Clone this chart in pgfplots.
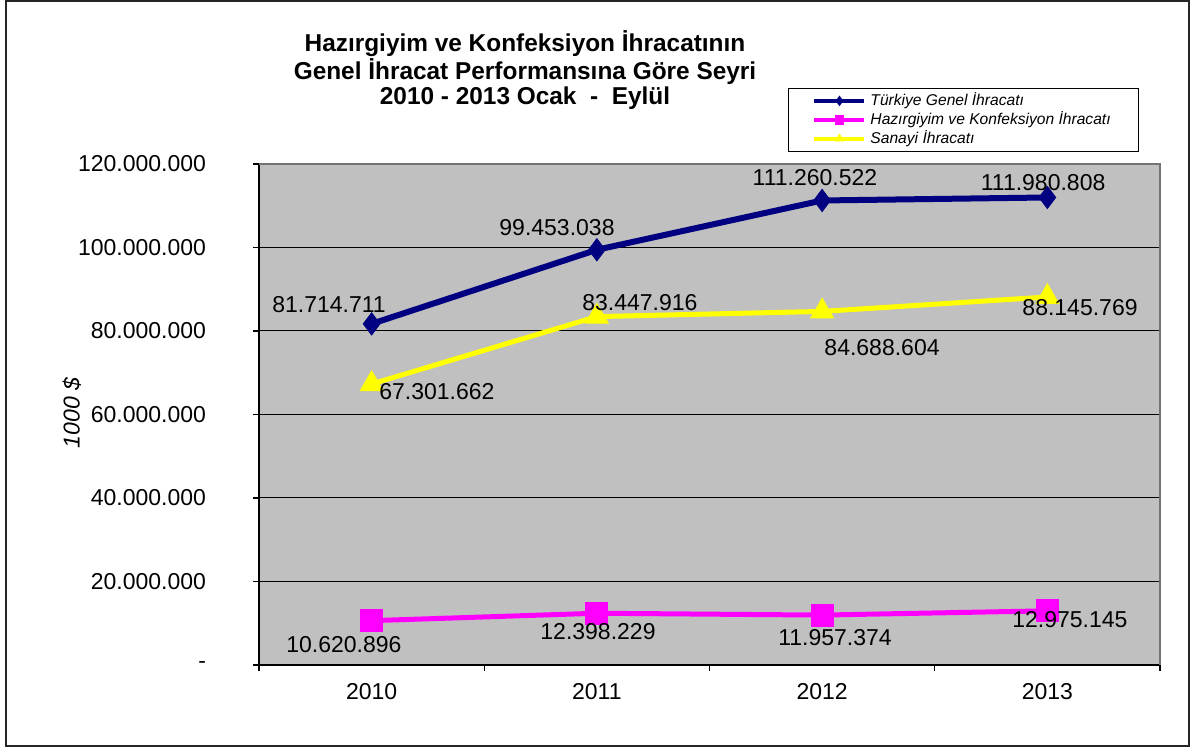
\documentclass[border=0pt]{standalone}
\usepackage{pgfplots}
\pgfplotsset{compat=1.18}
\usepackage{fontspec}
\setmainfont{Liberation Sans}
\definecolor{plotgray}{RGB}{192,192,192}
\definecolor{navyc}{RGB}{0,0,128}
\definecolor{magc}{RGB}{255,0,255}
\definecolor{yelc}{RGB}{255,255,0}
\begin{document}
\begin{tikzpicture}[x=1pt,y=1pt]
\draw[line width=1pt,black!85] (-126.5,-40.5) rectangle (465,332);
\begin{axis}[
  set layers,
  at={(0,0)}, anchor=south west,
  scale only axis, width=450.5pt, height=250.5pt,
  xmin=0, xmax=4, ymin=0, ymax=120000000,
  scaled y ticks=false,
  axis background/.style={fill=plotgray},
  axis x line*=bottom, axis y line*=left,
  axis line style={-, line width=1pt},
  xtick={0.5,1.5,2.5,3.5},
  xticklabels={2010,2011,2012,2013},
  minor xtick={0,1,2,3,4},
  major x tick style={draw=none},
  minor x tick style={black, line width=0.6pt},
  minor tick length=3pt,
  ytick={0,20000000,40000000,60000000,80000000,100000000,120000000},
  yticklabels={-,20.000.000,40.000.000,60.000.000,80.000.000,100.000.000,120.000.000},
  major tick length=3pt,
  tick align=outside,
  y tick style={black, line width=0.6pt},
  ymajorgrids, grid style={black, line width=0.5pt},
  tick label style={font=\fontsize{11.5}{13}\selectfont},
  yticklabel style={xshift=-20pt},
  xticklabel style={yshift=-2.5pt},
  ylabel={\itshape 1000 \$}, ylabel style={font=\fontsize{11.5}{13}\selectfont, at={(-93.5pt,126pt)}, anchor=center},
  clip=false,
  legend style={at={(axis description cs:0.587,1.024)}, anchor=south west, draw=black, line width=0.6pt, font=\fontsize{7.8}{9}\selectfont\itshape, inner xsep=12pt, inner ysep=0.3pt, row sep=-2.5pt, legend cell align=left, fill=white},
  legend image code/.code={\draw[#1, line width=2pt, mark=none] (0pt,0pt) -- (25pt,0pt); \draw[#1, mark size=2.2pt] plot coordinates {(12.5pt,0pt)};},
]
\draw[gray!90!black, line width=0.8pt] (axis cs:0,120000000) -- (axis cs:4,120000000) -- (axis cs:4,0);
\addplot[navyc, line width=3pt, mark=diamond*, mark size=5.5pt, mark options={solid, line width=0.5pt}] coordinates {(0.5,81714711) (1.5,99453038) (2.5,111260522) (3.5,111980808)};
\addlegendentry{Türkiye Genel İhracatı}
\addplot[magc, line width=2.5pt, mark=square*, mark size=5.5pt, mark options={solid, line width=0.5pt}] coordinates {(0.5,10620896) (1.5,12398229) (2.5,11957374) (3.5,12975145)};
\addlegendentry{Hazırgiyim ve Konfeksiyon İhracatı}
\addplot[yelc, line width=2.5pt, mark=triangle*, mark size=6.5pt, mark options={solid, line width=0.5pt}] coordinates {(0.5,67301662) (1.5,83447916) (2.5,84688604) (3.5,88145769)};
\addlegendentry{Sanayi İhracatı}
\begin{pgfonlayer}{axis foreground}
\begin{scope}[every node/.style={font=\fontsize{11.5}{13}\selectfont, inner sep=0pt}]
\node at (axis cs:0.311,86230000) {81.714.711};
\node at (axis cs:1.323,104670000) {99.453.038};
\node at (axis cs:2.468,116650000) {111.260.522};
\node at (axis cs:3.481,115450000) {111.980.808};
\node at (axis cs:0.790,65390000) {67.301.662};
\node at (axis cs:1.691,86710000) {83.447.916};
\node at (axis cs:2.766,75930000) {84.688.604};
\node at (axis cs:3.645,85510000) {88.145.769};
\node at (axis cs:0.377,4790000) {10.620.896};
\node at (axis cs:1.505,7900000) {12.398.229};
\node at (axis cs:2.557,6470000) {11.957.374};
\node at (axis cs:3.600,10780000) {12.975.145};
\end{scope}
\end{pgfonlayer}
\end{axis}
\node[font=\fontsize{12.2}{12.5}\selectfont\bfseries, align=center] at (133,297.5) {Hazırgiyim ve Konfeksiyon İhracatının\\Genel İhracat Performansına Göre Seyri\\2010 - 2013 Ocak \ - \ Eylül};
\useasboundingbox (-129.5,-42) rectangle (466.5,332.5);
\end{tikzpicture}
\end{document}
